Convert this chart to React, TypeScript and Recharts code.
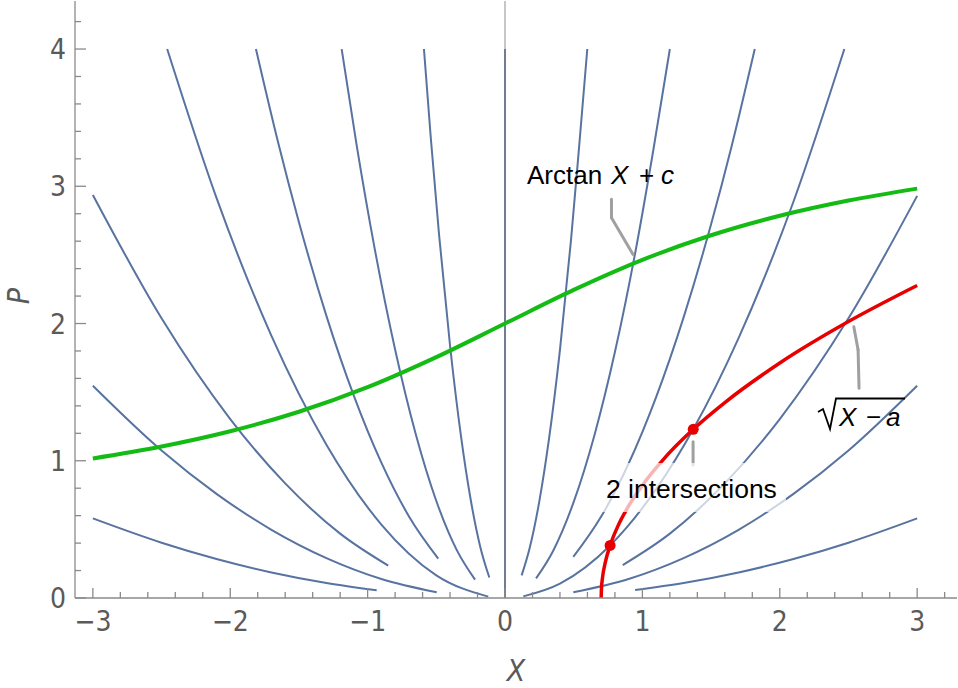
import { ComposedChart, Line, Scatter, XAxis, YAxis, ReferenceLine } from "recharts";

type Pt = { x: number; y: number };
const pts = (a: number[][]): Pt[] => a.map(([x, y]) => ({ x, y }));

// frame ticks: integers are labelled, minors every 0.2
const xTicks = [-3, -2.8, -2.6, -2.4, -2.2, -2, -1.8, -1.6, -1.4, -1.2, -1, -0.8, -0.6, -0.4, -0.2, 0, 0.2, 0.4, 0.6, 0.8, 1, 1.2, 1.4, 1.6, 1.8, 2, 2.2, 2.4, 2.6, 2.8, 3, 3.2];
const yTicks = [0, 0.2, 0.4, 0.6, 0.8, 1, 1.2, 1.4, 1.6, 1.8, 2, 2.2, 2.4, 2.6, 2.8, 3, 3.2, 3.4, 3.6, 3.8, 4, 4.2];

// blue flow lines, left branches
const flow1L = [[-3, 0.58], [-2.5, 0.403], [-2.1, 0.284], [-1.7, 0.186], [-1.3, 0.109], [-0.934, 0.056]];
const flow2L = [[-3, 1.547], [-2.5, 1.075], [-2.1, 0.759], [-1.7, 0.497], [-1.3, 0.291], [-0.9, 0.139], [-0.497, 0.042]];
const flow3L = [[-3, 2.937], [-2.5, 2.038], [-2, 1.304], [-1.6, 0.835], [-1.2, 0.469], [-0.85, 0.236]];
const flow4L = [[-2.459, 4.0], [-2.1, 2.915], [-1.7, 1.91], [-1.3, 1.117], [-0.9, 0.535], [-0.5, 0.165], [-0.122, 0.01]];
const flow5L = [[-1.813, 4.0], [-1.65, 3.313], [-1.5, 2.738], [-1.3, 2.056], [-1.1, 1.473], [-0.9, 0.986], [-0.7, 0.596], [-0.486, 0.287]];
const flow6L = [[-1.189, 4.0], [-1.08, 3.3], [-0.95, 2.553], [-0.8, 1.811], [-0.65, 1.195], [-0.5, 0.707], [-0.35, 0.347], [-0.218, 0.134]];
const flow7L = [[-0.59, 4.0], [-0.54, 3.35], [-0.48, 2.647], [-0.4, 1.838], [-0.32, 1.176], [-0.25, 0.718], [-0.18, 0.372], [-0.114, 0.149]];

// right branches
const flow1R = [[0.947, 0.058], [1.3, 0.109], [1.7, 0.186], [2.1, 0.284], [2.5, 0.403], [3, 0.58]];
const flow2R = [[0.497, 0.042], [0.9, 0.139], [1.3, 0.291], [1.7, 0.497], [2.1, 0.759], [2.5, 1.075], [3, 1.547]];
const flow3R = [[0.857, 0.24], [1.2, 0.469], [1.6, 0.835], [2, 1.304], [2.5, 2.038], [3, 2.93]];
const flow4R = [[0.133, 0.012], [0.4, 0.105], [0.765, 0.383], [1.1, 0.793], [1.37, 1.229], [1.7, 1.893], [2.1, 2.889], [2.47, 4.0]];
const flow5R = [[0.497, 0.299], [0.7, 0.593], [0.9, 0.98], [1.1, 1.464], [1.3, 2.045], [1.5, 2.723], [1.65, 3.294], [1.818, 4.0]];
const flow6R = [[0.226, 0.143], [0.35, 0.343], [0.5, 0.7], [0.65, 1.183], [0.8, 1.792], [0.95, 2.527], [1.08, 3.266], [1.2, 4.0]];
const flow7R = [[0.121, 0.165], [0.18, 0.366], [0.25, 0.706], [0.32, 1.157], [0.4, 1.808], [0.48, 2.604], [0.54, 3.295], [0.599, 4.0]];
const flowAxis = [[0, 0], [0, 4]];

const flows = [flow1L, flow2L, flow3L, flow4L, flow5L, flow6L, flow7L, flow1R, flow2R, flow3R, flow4R, flow5R, flow6R, flow7R];

// Arctan X + c
const arctanCurve = [[-3, 1.017], [-2.5, 1.104], [-2, 1.215], [-1.5, 1.357], [-1, 1.536], [-0.5, 1.755], [0, 2], [0.5, 2.245], [1, 2.464], [1.5, 2.643], [2, 2.785], [2.5, 2.896], [3, 2.983]];
// sqrt(X - a)
const sqrtCurve = [[0.7, 0], [0.702, 0.067], [0.71, 0.15], [0.73, 0.26], [0.765, 0.383], [0.82, 0.52], [0.9, 0.671], [1, 0.822], [1.15, 1.007], [1.37, 1.229], [1.6, 1.424], [2, 1.712], [2.5, 2.014], [3, 2.277]];
const intersections = [[0.765, 0.383], [1.37, 1.229]];

// callout leaders
const arctanLeader = [[0.775, 2.906], [0.775, 2.77], [0.932, 2.503]];
const sqrtLeader = [[2.539, 1.977], [2.57, 1.808], [2.577, 1.528]];
const dotLeader = [[1.369, 1.139], [1.369, 0.969]];

const blue = "#5873a0";
const frame = "#8a8a8a";
const tickFont = "'Liberation Sans Narrow', 'DejaVu Sans Condensed', sans-serif";
const textFont = "'Liberation Sans', Arial, sans-serif";

const isMajor = (v: number) => Math.abs(v - Math.round(v)) < 1e-6;
const fmt = (v: number) => (v < 0 ? "\u2212" + Math.abs(Math.round(v)) : String(Math.round(v)));

function BottomTick({ x, y, payload }: any) {
  const major = isMajor(payload.value);
  return (
    <g>
      <line x1={x} x2={x} y1={y} y2={y - (major ? 10 : 6)} stroke={frame} strokeWidth={1.3} />
      {major && (
        <text x={x} y={y + 33} textAnchor="middle" fontFamily={tickFont} fontSize={28} fill="#5a5a5a">
          {fmt(payload.value)}
        </text>
      )}
    </g>
  );
}

function TopTick({ x, y, payload }: any) {
  const major = isMajor(payload.value);
  return <line x1={x} x2={x} y1={y} y2={y + (major ? 10 : 6)} stroke={frame} strokeWidth={1.3} />;
}

function LeftTick({ x, y, payload }: any) {
  const major = isMajor(payload.value);
  return (
    <g>
      <line x1={x} x2={x + (major ? 11 : 6)} y1={y} y2={y} stroke={frame} strokeWidth={1.3} />
      {major && (
        <text x={x - 9} y={y + 10} textAnchor="end" fontFamily={tickFont} fontSize={28} fill="#5a5a5a">
          {fmt(payload.value)}
        </text>
      )}
    </g>
  );
}

function RightTick({ x, y, payload }: any) {
  const major = isMajor(payload.value);
  return <line x1={x} x2={x - (major ? 11 : 6)} y1={y} y2={y} stroke={frame} strokeWidth={1.3} />;
}

const leader = (p: number[][], key: string) =>
  p.slice(1).map((q, i) => (
    <ReferenceLine
      key={key + i}
      xAxisId="b"
      yAxisId="l"
      segment={[{ x: p[i][0], y: p[i][1] }, { x: q[0], y: q[1] }]}
      stroke="#a0a0a0"
      strokeWidth={3}
      strokeLinecap="round"
    />
  ));

export default function App() {
  return (
    <div style={{ position: "absolute", left: 0, top: 0, width: 958, height: 688, background: "#fff" }}>
      <ComposedChart width={958} height={688} margin={{ top: 1, right: 1, bottom: 50, left: 15 }}>
        <XAxis
          xAxisId="b"
          type="number"
          dataKey="x"
          domain={[-3.13, 3.29]}
          allowDataOverflow
          ticks={xTicks}
          interval={0}
          tick={(p: any) => <BottomTick {...p} />}
          tickLine={false}
          tickSize={0}
          tickMargin={0}
          height={40}
          axisLine={{ stroke: frame, strokeWidth: 1.3 }}
        />
        <XAxis
          xAxisId="t"
          orientation="top"
          type="number"
          dataKey="x"
          domain={[-3.13, 3.29]}
          allowDataOverflow
          ticks={xTicks}
          interval={0}
          tick={(p: any) => <TopTick {...p} />}
          tickLine={false}
          tickSize={0}
          tickMargin={0}
          height={0}
          axisLine={{ stroke: frame, strokeWidth: 1.3 }}
        />
        <YAxis
          yAxisId="l"
          type="number"
          domain={[0, 4.35]}
          allowDataOverflow
          ticks={yTicks}
          interval={0}
          tick={(p: any) => <LeftTick {...p} />}
          tickLine={false}
          tickSize={0}
          tickMargin={0}
          width={60}
          axisLine={{ stroke: frame, strokeWidth: 1.3 }}
        />
        <YAxis
          yAxisId="r"
          orientation="right"
          type="number"
          domain={[0, 4.35]}
          allowDataOverflow
          ticks={yTicks}
          interval={0}
          tick={(p: any) => <RightTick {...p} />}
          tickLine={false}
          tickSize={0}
          tickMargin={0}
          width={0}
          axisLine={{ stroke: frame, strokeWidth: 1.3 }}
        />
        <ReferenceLine xAxisId="b" yAxisId="l" x={0} stroke="#b4b4b4" strokeWidth={1.5} />

        {flows.map((f, i) => (
          <Line
            key={"f" + i}
            xAxisId="b"
            yAxisId="l"
            data={pts(f)}
            dataKey="y"
            type="monotone"
            stroke={blue}
            strokeWidth={2}
            dot={false}
            activeDot={false}
            isAnimationActive={false}
          />
        ))}
        <Line xAxisId="b" yAxisId="l" data={pts(flowAxis)} dataKey="y" type="linear" stroke="#707c90" strokeWidth={2} dot={false} activeDot={false} isAnimationActive={false} />
        <Line xAxisId="b" yAxisId="l" data={pts(arctanCurve)} dataKey="y" type="monotone" stroke="#14bb14" strokeWidth={4} dot={false} activeDot={false} isAnimationActive={false} />
        <Line xAxisId="b" yAxisId="l" data={pts(sqrtCurve)} dataKey="y" type="monotone" stroke="#e80000" strokeWidth={3.5} dot={false} activeDot={false} isAnimationActive={false} />
        <Scatter
          xAxisId="b"
          yAxisId="l"
          data={pts(intersections)}
          dataKey="y"
          isAnimationActive={false}
          shape={(p: any) => <circle cx={p.cx} cy={p.cy} r={5.5} fill="#e80000" />}
        />
        {leader(arctanLeader, "a")}
        {leader(sqrtLeader, "s")}
        {leader(dotLeader, "d")}
      </ComposedChart>

      <svg width={958} height={688} style={{ position: "absolute", left: 0, top: 0, pointerEvents: "none" }}>
        <rect x={600} y={463} width={186} height={49} fill="#fff" fillOpacity={0.7} />
        <text x={606} y={497.5} fontFamily={textFont} fontSize={26.5} fill="#000">2 intersections</text>

        <text y={183.5} fontFamily={textFont} fontSize={26} fill="#000">
          <tspan x={527}>Arctan</tspan>
          <tspan x={611} fontStyle="italic">X</tspan>
          <tspan x={639}>+</tspan>
          <tspan x={661} fontStyle="italic">c</tspan>
        </text>

        <path d="M818 412 L823 409 L830 429 L836 398.5 L905 398.5" fill="none" stroke="#000" strokeWidth={1.8} />
        <text y={426} fontFamily={textFont} fontSize={26} fill="#000">
          <tspan x={839} fontStyle="italic">X</tspan>
          <tspan x={866}>{"\u2212"}</tspan>
          <tspan x={886} fontStyle="italic">a</tspan>
        </text>

        <text x={516} y={681} textAnchor="middle" fontFamily={tickFont} fontStyle="italic" fontSize={30} fill="#5a5a5a">X</text>
        <text x={29} y={296} textAnchor="middle" fontFamily={tickFont} fontStyle="italic" fontSize={30} fill="#5a5a5a" transform="rotate(-90 29 296)">P</text>
      </svg>
    </div>
  );
}
